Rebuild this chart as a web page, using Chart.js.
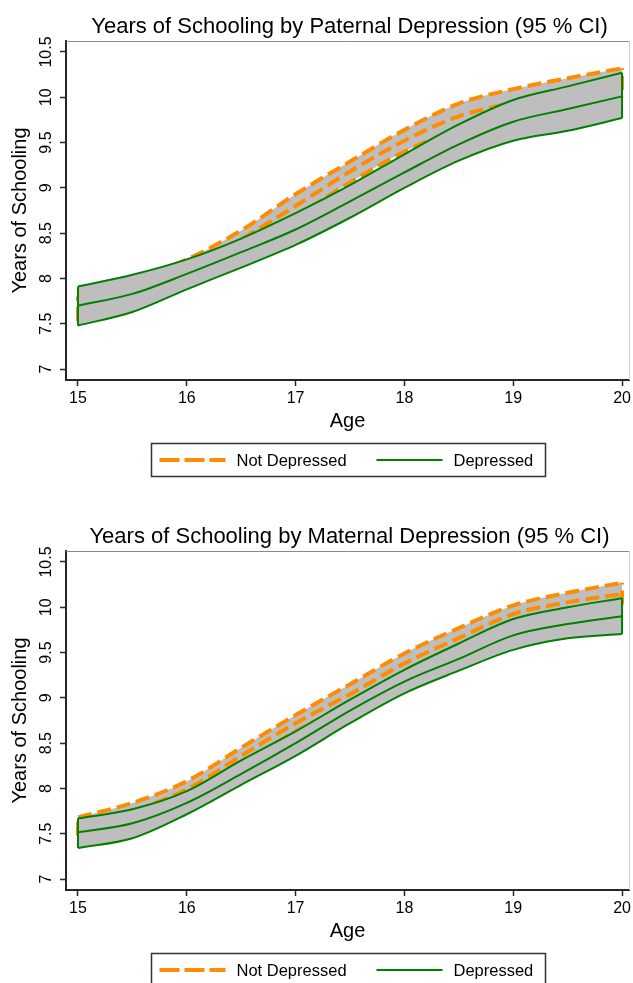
<!DOCTYPE html>
<html>
<head>
<meta charset="utf-8">
<title>Years of Schooling by Parental Depression</title>
<script src="https://cdn.jsdelivr.net/npm/chart.js"></script>
<style>
  body {
    margin: 0;
    background: #fff;
    overflow: hidden;
  }
  .panel {
    width: 633px;
    height: 510px;
  }
</style>
</head>
<body>
  <div class="panel"><canvas id="paternalChart" width="633" height="510"></canvas></div>
  <div class="panel"><canvas id="maternalChart" width="633" height="510"></canvas></div>

<script>
  // ages where the fitted curves are evaluated
  const ages = [15, 15.5, 16, 16.5, 17, 17.5, 18, 18.5, 19, 19.5, 20];
  const xTicks = [15, 16, 17, 18, 19, 20];
  const yTicks = [7, 7.5, 8, 8.5, 9, 9.5, 10, 10.5];
  const yTickLabels = ['7', '7.5', '8', '8.5', '9', '9.5', '10', '10.5'];
  const seriesNames = ['Not Depressed', 'Depressed'];

  // paternal depression
  const patNotDepLow  = [7.53, 7.70, 7.93, 8.30, 8.68, 9.06, 9.40, 9.65, 9.85, 9.98, 10.08];
  const patNotDepMean = [7.67, 7.85, 8.07, 8.43, 8.80, 9.18, 9.52, 9.79, 9.94, 10.06, 10.20];
  const patNotDepHigh = [7.80, 7.99, 8.21, 8.53, 8.93, 9.29, 9.64, 9.93, 10.09, 10.21, 10.32];
  const patDepLow  = [7.48, 7.63, 7.88, 8.12, 8.37, 8.67, 9.00, 9.30, 9.52, 9.63, 9.77];
  const patDepMean = [7.70, 7.83, 8.05, 8.29, 8.54, 8.85, 9.17, 9.48, 9.73, 9.87, 10.01];
  const patDepHigh = [7.91, 8.04, 8.21, 8.44, 8.72, 9.03, 9.37, 9.70, 9.97, 10.12, 10.27];

  // maternal depression
  const matNotDepLow  = [7.48, 7.66, 7.90, 8.26, 8.63, 8.93, 9.27, 9.55, 9.83, 9.95, 10.03];
  const matNotDepMean = [7.58, 7.75, 7.99, 8.36, 8.72, 9.04, 9.38, 9.66, 9.925, 10.054, 10.146];
  const matNotDepHigh = [7.68, 7.84, 8.08, 8.45, 8.81, 9.15, 9.49, 9.77, 10.02, 10.16, 10.27];
  const matDepLow  = [7.342, 7.45, 7.715, 8.04, 8.36, 8.72, 9.05, 9.30, 9.53, 9.657, 9.704];
  const matDepMean = [7.515, 7.615, 7.84, 8.16, 8.50, 8.86, 9.18, 9.43, 9.69, 9.815, 9.90];
  const matDepHigh = [7.67, 7.77, 7.97, 8.31, 8.63, 8.98, 9.31, 9.60, 9.87, 10.00, 10.10];

  const FONT = '"Liberation Sans", Arial, sans-serif';
  const ORANGE = '#ff8c00';
  const GREEN = '#008000';
  const BAND = '#bebebe';
  const AXIS = '#262626';

  function curve(label, ys, color, dashed, order, fillTo) {
    return {
      label: label,
      data: ages.map((a, i) => ({ x: a, y: ys[i] })),
      borderColor: color,
      borderWidth: dashed ? 4 : 2,
      borderDash: dashed ? [14, 6] : [],
      pointRadius: 0,
      cubicInterpolationMode: 'monotone',
      backgroundColor: BAND,
      fill: fillTo === undefined ? false : { target: fillTo, above: BAND, below: BAND },
      order: order
    };
  }

  // vertical closing edge of a confidence band
  function edge(label, i, low, high, color, dashed, order) {
    return {
      label: label,
      data: [{ x: ages[i], y: low[i] }, { x: ages[i], y: high[i] }],
      borderColor: color,
      borderWidth: dashed ? 4 : 2,
      borderDash: dashed ? [14, 6] : [],
      pointRadius: 0,
      tension: 0,
      fill: false,
      order: order
    };
  }

  function buildDatasets(groups) {
    const sets = [];
    // higher order is painted first, so the second group sits on top
    let order = groups.length * 2;
    groups.forEach(g => {
      const lowIdx = sets.length;
      sets.push(curve(g.name, g.low, g.color, g.dashed, order - 1));
      sets.push(curve(g.name, g.high, g.color, g.dashed, order, lowIdx));
      sets.push(curve(g.name, g.mean, g.color, g.dashed, order - 1));
      sets.push(edge(g.name, 0, g.low, g.high, g.color, g.dashed, order - 1));
      sets.push(edge(g.name, ages.length - 1, g.low, g.high, g.color, g.dashed, order - 1));
      order -= 2;
    });
    return sets;
  }

  const frameAndLegend = {
    id: 'frameAndLegend',
    afterDraw(chart, args, opts) {
      const { ctx, chartArea, scales } = chart;
      const y = scales.y;
      const cx = (chartArea.left + chartArea.right) / 2;
      ctx.save();

      // title centred over the plot region
      ctx.font = '22px ' + FONT;
      ctx.fillStyle = '#000';
      ctx.textAlign = 'center';
      ctx.textBaseline = 'middle';
      ctx.fillText(opts.title, cx + 2, 27);

      // light frame on the top and right of the plot region
      ctx.lineWidth = 1;
      ctx.strokeStyle = '#8a8a8a';
      ctx.beginPath();
      ctx.moveTo(chartArea.left, chartArea.top + 0.5);
      ctx.lineTo(chartArea.right + 0.5, chartArea.top + 0.5);
      ctx.stroke();
      ctx.strokeStyle = '#cfcfcf';
      ctx.beginPath();
      ctx.moveTo(chartArea.right + 0.5, chartArea.top);
      ctx.lineTo(chartArea.right + 0.5, chartArea.bottom);
      ctx.stroke();

      // vertical y tick labels
      ctx.font = '16px ' + FONT;
      ctx.textAlign = 'center';
      ctx.textBaseline = 'alphabetic';
      yTicks.forEach((v, i) => {
        ctx.save();
        ctx.translate(chartArea.left - 15, y.getPixelForValue(v));
        ctx.rotate(-Math.PI / 2);
        ctx.fillText(yTickLabels[i], 0, 0);
        ctx.restore();
      });

      // legend box under the axis title
      const boxW = 394, boxH = 33;
      const left = Math.round(cx - boxW / 2) + 0.5;
      const top = chartArea.bottom + 63.5;
      const mid = top + boxH / 2;
      ctx.lineWidth = 1.5;
      ctx.strokeStyle = '#333';
      ctx.setLineDash([]);
      ctx.strokeRect(left, top, boxW, boxH);

      const slots = [8, 225];
      ctx.font = '16.5px ' + FONT;
      opts.groups.forEach((g, i) => {
        const x0 = left + slots[i];
        ctx.beginPath();
        ctx.strokeStyle = g.color;
        ctx.lineWidth = g.dashed ? 4 : 2;
        ctx.setLineDash(g.dashed ? [20, 5] : []);
        ctx.moveTo(x0, mid);
        ctx.lineTo(x0 + 66, mid);
        ctx.stroke();
        ctx.setLineDash([]);
        ctx.fillStyle = '#000';
        ctx.textAlign = 'left';
        ctx.textBaseline = 'middle';
        ctx.fillText(g.name, x0 + 77, mid + 1);
      });
      ctx.restore();
    }
  };

  function createChart(canvasId, title, groups) {
    const ctx = document.getElementById(canvasId).getContext('2d');
    return new Chart(ctx, {
      type: 'line',
      data: { datasets: buildDatasets(groups) },
      options: {
        responsive: false,
        animation: false,
        events: [],
        layout: { padding: { left: 0, right: 4, top: 41, bottom: 70 } },
        scales: {
          x: {
            type: 'linear',
            min: 14.89,
            max: 20.064,
            afterBuildTicks: s => { s.ticks = xTicks.map(v => ({ value: v })); },
            afterFit: s => { s.height = 60; s.paddingLeft = 0; s.paddingRight = 0; },
            ticks: { color: '#000', font: { family: FONT, size: 16 }, padding: 3 },
            grid: { drawOnChartArea: false, tickLength: 6, tickColor: AXIS, tickWidth: 1.5 },
            border: { color: AXIS, width: 2 },
            title: {
              display: true,
              text: 'Age',
              color: '#000',
              font: { family: FONT, size: 20 },
              padding: { top: 0, bottom: 7 }
            }
          },
          y: {
            type: 'linear',
            min: 6.879,
            max: 10.621,
            afterBuildTicks: s => { s.ticks = yTicks.map(v => ({ value: v })); },
            afterFit: s => { s.width = 66; s.paddingTop = 0; s.paddingBottom = 0; },
            ticks: { color: 'rgba(0,0,0,0)', font: { family: FONT, size: 16 } },
            grid: { drawOnChartArea: false, tickLength: 6, tickColor: AXIS, tickWidth: 1.5 },
            border: { color: AXIS, width: 2 },
            title: {
              display: true,
              text: 'Years of Schooling',
              color: '#000',
              font: { family: FONT, size: 20 },
              padding: { top: 8, bottom: 0 }
            }
          }
        },
        plugins: {
          legend: { display: false },
          tooltip: { enabled: false },
          title: { display: false },
          frameAndLegend: { title: title, groups: groups }
        }
      },
      plugins: [frameAndLegend]
    });
  }

  createChart('paternalChart', 'Years of Schooling by Paternal Depression (95 % CI)', [
    { name: seriesNames[0], low: patNotDepLow, mean: patNotDepMean, high: patNotDepHigh, color: ORANGE, dashed: true },
    { name: seriesNames[1], low: patDepLow, mean: patDepMean, high: patDepHigh, color: GREEN, dashed: false }
  ]);

  createChart('maternalChart', 'Years of Schooling by Maternal Depression (95 % CI)', [
    { name: seriesNames[0], low: matNotDepLow, mean: matNotDepMean, high: matNotDepHigh, color: ORANGE, dashed: true },
    { name: seriesNames[1], low: matDepLow, mean: matDepMean, high: matDepHigh, color: GREEN, dashed: false }
  ]);
</script>
</body>
</html>
